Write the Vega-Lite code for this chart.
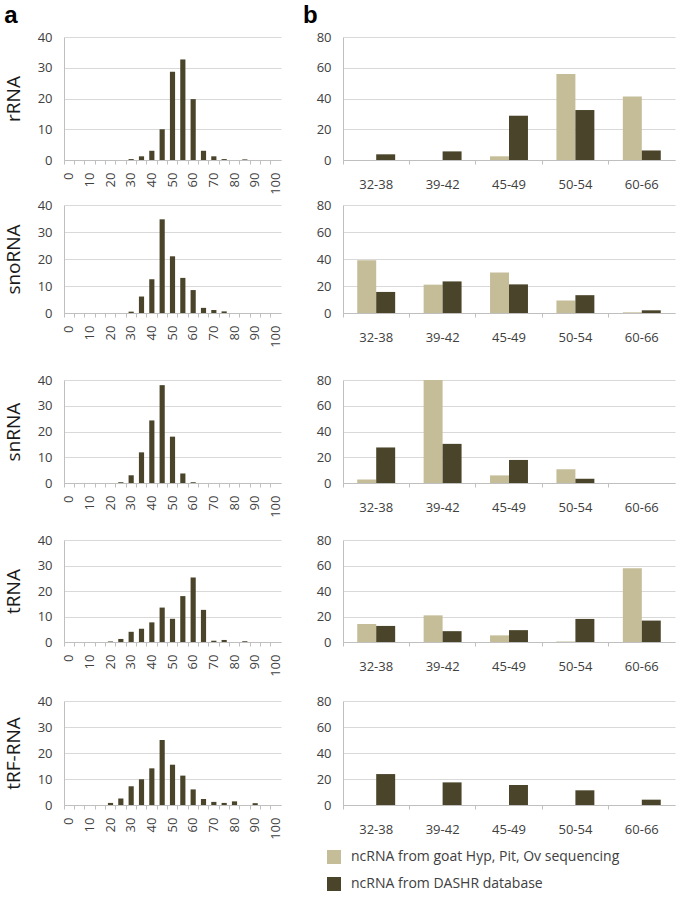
{
  "$schema": "https://vega.github.io/schema/vega-lite/v6.json",
  "padding": {"left": 4, "top": 4, "right": 4, "bottom": 4},
  "config": {
    "view": {"stroke": null},
    "font": "Open Sans",
    "axis": {
      "labelFont": "Open Sans",
      "labelFontSize": 13,
      "labelColor": "#404040",
      "domainColor": "#bfbfbf",
      "tickColor": "#bfbfbf",
      "gridColor": "#d9d9d9",
      "titleFont": "Open Sans",
      "titleFontWeight": "normal",
      "titleColor": "#1a1a1a"
    },
    "title": {"font": "Liberation Sans", "fontSize": 24, "fontWeight": "bold", "color": "#000000", "anchor": "start"},
    "legend": {
      "orient": "none",
      "legendX": 263,
      "legendY": 813,
      "symbolType": "square",
      "symbolSize": 196,
      "symbolStrokeWidth": 0,
      "labelFont": "Open Sans",
      "labelFontSize": 14,
      "labelColor": "#404040",
      "rowPadding": 13,
      "labelOffset": 10,
      "labelLimit": 400
    }
  },
  "datasets": {
    "hist": [
      {"rna":"rRNA","len":0,"pct":0},{"rna":"rRNA","len":5,"pct":0},{"rna":"rRNA","len":10,"pct":0},{"rna":"rRNA","len":15,"pct":0},{"rna":"rRNA","len":20,"pct":0},{"rna":"rRNA","len":25,"pct":0},{"rna":"rRNA","len":30,"pct":0.3},{"rna":"rRNA","len":35,"pct":1.2},{"rna":"rRNA","len":40,"pct":3},{"rna":"rRNA","len":45,"pct":10},{"rna":"rRNA","len":50,"pct":28.7},{"rna":"rRNA","len":55,"pct":32.7},{"rna":"rRNA","len":60,"pct":19.8},{"rna":"rRNA","len":65,"pct":3},{"rna":"rRNA","len":70,"pct":1.2},{"rna":"rRNA","len":75,"pct":0.3},{"rna":"rRNA","len":80,"pct":0},{"rna":"rRNA","len":85,"pct":0.2},{"rna":"rRNA","len":90,"pct":0},{"rna":"rRNA","len":95,"pct":0},{"rna":"rRNA","len":100,"pct":0},
      {"rna":"snoRNA","len":0,"pct":0},{"rna":"snoRNA","len":5,"pct":0},{"rna":"snoRNA","len":10,"pct":0},{"rna":"snoRNA","len":15,"pct":0},{"rna":"snoRNA","len":20,"pct":0},{"rna":"snoRNA","len":25,"pct":0},{"rna":"snoRNA","len":30,"pct":0.5},{"rna":"snoRNA","len":35,"pct":6.1},{"rna":"snoRNA","len":40,"pct":12.5},{"rna":"snoRNA","len":45,"pct":34.7},{"rna":"snoRNA","len":50,"pct":21},{"rna":"snoRNA","len":55,"pct":13},{"rna":"snoRNA","len":60,"pct":8.5},{"rna":"snoRNA","len":65,"pct":1.9},{"rna":"snoRNA","len":70,"pct":1.1},{"rna":"snoRNA","len":75,"pct":0.6},{"rna":"snoRNA","len":80,"pct":0},{"rna":"snoRNA","len":85,"pct":0},{"rna":"snoRNA","len":90,"pct":0},{"rna":"snoRNA","len":95,"pct":0},{"rna":"snoRNA","len":100,"pct":0},
      {"rna":"snRNA","len":0,"pct":0},{"rna":"snRNA","len":5,"pct":0},{"rna":"snRNA","len":10,"pct":0},{"rna":"snRNA","len":15,"pct":0},{"rna":"snRNA","len":20,"pct":0},{"rna":"snRNA","len":25,"pct":0.3},{"rna":"snRNA","len":30,"pct":3},{"rna":"snRNA","len":35,"pct":11.9},{"rna":"snRNA","len":40,"pct":24.3},{"rna":"snRNA","len":45,"pct":38},{"rna":"snRNA","len":50,"pct":18},{"rna":"snRNA","len":55,"pct":3.7},{"rna":"snRNA","len":60,"pct":0.3},{"rna":"snRNA","len":65,"pct":0},{"rna":"snRNA","len":70,"pct":0},{"rna":"snRNA","len":75,"pct":0},{"rna":"snRNA","len":80,"pct":0},{"rna":"snRNA","len":85,"pct":0},{"rna":"snRNA","len":90,"pct":0},{"rna":"snRNA","len":95,"pct":0},{"rna":"snRNA","len":100,"pct":0},
      {"rna":"tRNA","len":0,"pct":0},{"rna":"tRNA","len":5,"pct":0},{"rna":"tRNA","len":10,"pct":0},{"rna":"tRNA","len":15,"pct":0},{"rna":"tRNA","len":20,"pct":0.2},{"rna":"tRNA","len":25,"pct":1.2},{"rna":"tRNA","len":30,"pct":4},{"rna":"tRNA","len":35,"pct":5.2},{"rna":"tRNA","len":40,"pct":7.7},{"rna":"tRNA","len":45,"pct":13.5},{"rna":"tRNA","len":50,"pct":9.1},{"rna":"tRNA","len":55,"pct":18},{"rna":"tRNA","len":60,"pct":25.3},{"rna":"tRNA","len":65,"pct":12.6},{"rna":"tRNA","len":70,"pct":0.5},{"rna":"tRNA","len":75,"pct":0.8},{"rna":"tRNA","len":80,"pct":0},{"rna":"tRNA","len":85,"pct":0.3},{"rna":"tRNA","len":90,"pct":0},{"rna":"tRNA","len":95,"pct":0},{"rna":"tRNA","len":100,"pct":0},
      {"rna":"tRF-RNA","len":0,"pct":0},{"rna":"tRF-RNA","len":5,"pct":0},{"rna":"tRF-RNA","len":10,"pct":0},{"rna":"tRF-RNA","len":15,"pct":0},{"rna":"tRF-RNA","len":20,"pct":0.8},{"rna":"tRF-RNA","len":25,"pct":2.5},{"rna":"tRF-RNA","len":30,"pct":7.2},{"rna":"tRF-RNA","len":35,"pct":9.9},{"rna":"tRF-RNA","len":40,"pct":14.1},{"rna":"tRF-RNA","len":45,"pct":25},{"rna":"tRF-RNA","len":50,"pct":15.5},{"rna":"tRF-RNA","len":55,"pct":11.3},{"rna":"tRF-RNA","len":60,"pct":6},{"rna":"tRF-RNA","len":65,"pct":2.3},{"rna":"tRF-RNA","len":70,"pct":1.2},{"rna":"tRF-RNA","len":75,"pct":0.8},{"rna":"tRF-RNA","len":80,"pct":1.4},{"rna":"tRF-RNA","len":85,"pct":0},{"rna":"tRF-RNA","len":90,"pct":0.7},{"rna":"tRF-RNA","len":95,"pct":0},{"rna":"tRF-RNA","len":100,"pct":0}
    ],
    "cmp": [
      {"rna":"rRNA","range":"32-38","source":"ncRNA from goat Hyp, Pit, Ov sequencing","pct":0},
      {"rna":"rRNA","range":"39-42","source":"ncRNA from goat Hyp, Pit, Ov sequencing","pct":0},
      {"rna":"rRNA","range":"45-49","source":"ncRNA from goat Hyp, Pit, Ov sequencing","pct":2.4},
      {"rna":"rRNA","range":"50-54","source":"ncRNA from goat Hyp, Pit, Ov sequencing","pct":55.9},
      {"rna":"rRNA","range":"60-66","source":"ncRNA from goat Hyp, Pit, Ov sequencing","pct":41.3},
      {"rna":"rRNA","range":"32-38","source":"ncRNA from DASHR database","pct":3.7},
      {"rna":"rRNA","range":"39-42","source":"ncRNA from DASHR database","pct":5.6},
      {"rna":"rRNA","range":"45-49","source":"ncRNA from DASHR database","pct":28.8},
      {"rna":"rRNA","range":"50-54","source":"ncRNA from DASHR database","pct":32.5},
      {"rna":"rRNA","range":"60-66","source":"ncRNA from DASHR database","pct":6.2},
      {"rna":"snoRNA","range":"32-38","source":"ncRNA from goat Hyp, Pit, Ov sequencing","pct":39},
      {"rna":"snoRNA","range":"39-42","source":"ncRNA from goat Hyp, Pit, Ov sequencing","pct":21},
      {"rna":"snoRNA","range":"45-49","source":"ncRNA from goat Hyp, Pit, Ov sequencing","pct":30},
      {"rna":"snoRNA","range":"50-54","source":"ncRNA from goat Hyp, Pit, Ov sequencing","pct":9.3},
      {"rna":"snoRNA","range":"60-66","source":"ncRNA from goat Hyp, Pit, Ov sequencing","pct":0.5},
      {"rna":"snoRNA","range":"32-38","source":"ncRNA from DASHR database","pct":15.6},
      {"rna":"snoRNA","range":"39-42","source":"ncRNA from DASHR database","pct":23.4},
      {"rna":"snoRNA","range":"45-49","source":"ncRNA from DASHR database","pct":21.2},
      {"rna":"snoRNA","range":"50-54","source":"ncRNA from DASHR database","pct":13.2},
      {"rna":"snoRNA","range":"60-66","source":"ncRNA from DASHR database","pct":2},
      {"rna":"snRNA","range":"32-38","source":"ncRNA from goat Hyp, Pit, Ov sequencing","pct":2.8},
      {"rna":"snRNA","range":"39-42","source":"ncRNA from goat Hyp, Pit, Ov sequencing","pct":80},
      {"rna":"snRNA","range":"45-49","source":"ncRNA from goat Hyp, Pit, Ov sequencing","pct":5.9},
      {"rna":"snRNA","range":"50-54","source":"ncRNA from goat Hyp, Pit, Ov sequencing","pct":10.7},
      {"rna":"snRNA","range":"60-66","source":"ncRNA from goat Hyp, Pit, Ov sequencing","pct":0},
      {"rna":"snRNA","range":"32-38","source":"ncRNA from DASHR database","pct":27.6},
      {"rna":"snRNA","range":"39-42","source":"ncRNA from DASHR database","pct":30.4},
      {"rna":"snRNA","range":"45-49","source":"ncRNA from DASHR database","pct":17.9},
      {"rna":"snRNA","range":"50-54","source":"ncRNA from DASHR database","pct":3.3},
      {"rna":"snRNA","range":"60-66","source":"ncRNA from DASHR database","pct":0},
      {"rna":"tRNA","range":"32-38","source":"ncRNA from goat Hyp, Pit, Ov sequencing","pct":14.2},
      {"rna":"tRNA","range":"39-42","source":"ncRNA from goat Hyp, Pit, Ov sequencing","pct":20.9},
      {"rna":"tRNA","range":"45-49","source":"ncRNA from goat Hyp, Pit, Ov sequencing","pct":5.2},
      {"rna":"tRNA","range":"50-54","source":"ncRNA from goat Hyp, Pit, Ov sequencing","pct":0.3},
      {"rna":"tRNA","range":"60-66","source":"ncRNA from goat Hyp, Pit, Ov sequencing","pct":57.8},
      {"rna":"tRNA","range":"32-38","source":"ncRNA from DASHR database","pct":12.6},
      {"rna":"tRNA","range":"39-42","source":"ncRNA from DASHR database","pct":8.5},
      {"rna":"tRNA","range":"45-49","source":"ncRNA from DASHR database","pct":9.3},
      {"rna":"tRNA","range":"50-54","source":"ncRNA from DASHR database","pct":18.1},
      {"rna":"tRNA","range":"60-66","source":"ncRNA from DASHR database","pct":16.8},
      {"rna":"tRF-RNA","range":"32-38","source":"ncRNA from goat Hyp, Pit, Ov sequencing","pct":0},
      {"rna":"tRF-RNA","range":"39-42","source":"ncRNA from goat Hyp, Pit, Ov sequencing","pct":0},
      {"rna":"tRF-RNA","range":"45-49","source":"ncRNA from goat Hyp, Pit, Ov sequencing","pct":0},
      {"rna":"tRF-RNA","range":"50-54","source":"ncRNA from goat Hyp, Pit, Ov sequencing","pct":0},
      {"rna":"tRF-RNA","range":"60-66","source":"ncRNA from goat Hyp, Pit, Ov sequencing","pct":0},
      {"rna":"tRF-RNA","range":"32-38","source":"ncRNA from DASHR database","pct":23.8},
      {"rna":"tRF-RNA","range":"39-42","source":"ncRNA from DASHR database","pct":17.4},
      {"rna":"tRF-RNA","range":"45-49","source":"ncRNA from DASHR database","pct":15.4},
      {"rna":"tRF-RNA","range":"50-54","source":"ncRNA from DASHR database","pct":11.3},
      {"rna":"tRF-RNA","range":"60-66","source":"ncRNA from DASHR database","pct":4.1}
    ]
  },
  "spacing": 4,
  "vconcat": [
    {
      "spacing": 20,
      "hconcat": [
        {
          "title": {"text": "a", "offset": 3, "frame": "bounds"},
          "data": {"name": "hist"},
          "transform": [{"filter": "datum.rna === 'rRNA'"}],
          "width": 217, "height": 123,
          "mark": {"type": "bar", "color": "#4a452a", "width": {"band": 0.5}},
          "encoding": {
            "x": {"field": "len", "type": "ordinal", "scale": {"paddingInner": 0, "paddingOuter": 0},
              "axis": {"title": null, "labelAngle": -90, "labelAlign": "right", "labelBaseline": "middle", "bandPosition": 0, "labelExpr": "datum.value % 10 === 0 ? datum.label : ''", "tickSize": 4, "labelPadding": 8}},
            "y": {"field": "pct", "type": "quantitative", "scale": {"domain": [0, 40]},
              "axis": {"title": "rRNA", "values": [0, 10, 20, 30, 40], "ticks": false, "labelPadding": 12, "titlePadding": 14, "titleFontSize": 19}}
          }
        },
        {
          "title": {"text": "b", "offset": 3, "frame": "group", "dx": -40},
          "data": {"name": "cmp"},
          "transform": [{"filter": "datum.rna === 'rRNA'"}],
          "width": 332, "height": 123,
          "mark": {"type": "bar"},
          "encoding": {
            "x": {"field": "range", "type": "nominal", "scale": {"paddingInner": 0, "paddingOuter": 0},
              "axis": {"title": null, "labelAngle": 0, "bandPosition": 0, "tickSize": 4, "labelPadding": 14}},
            "xOffset": {"field": "source", "type": "nominal", "scale": {"domain": ["ncRNA from goat Hyp, Pit, Ov sequencing", "ncRNA from DASHR database"], "paddingInner": 0, "paddingOuter": 0.75}},
            "y": {"field": "pct", "type": "quantitative", "scale": {"domain": [0, 80]},
              "axis": {"title": null, "values": [0, 20, 40, 60, 80], "ticks": false, "labelPadding": 12}},
            "color": {"field": "source", "type": "nominal", "title": null, "scale": {"domain": ["ncRNA from goat Hyp, Pit, Ov sequencing", "ncRNA from DASHR database"], "range": ["#c4bd97", "#4a452a"]}}
          }
        }
      ]
    },
    {
      "spacing": 26,
      "vconcat": [
        {
          "spacing": 33,
          "hconcat": [
            {
              "data": {"name": "hist"},
              "transform": [{"filter": "datum.rna === 'snoRNA'"}],
              "width": 217, "height": 108,
              "mark": {"type": "bar", "color": "#4a452a", "width": {"band": 0.5}},
              "encoding": {
                "x": {"field": "len", "type": "ordinal", "scale": {"paddingInner": 0, "paddingOuter": 0},
                  "axis": {"title": null, "labelAngle": -90, "labelAlign": "right", "labelBaseline": "middle", "bandPosition": 0, "labelExpr": "datum.value % 10 === 0 ? datum.label : ''", "tickSize": 4, "labelPadding": 8}},
                "y": {"field": "pct", "type": "quantitative", "scale": {"domain": [0, 40]},
                  "axis": {"title": "snoRNA", "values": [0, 10, 20, 30, 40], "ticks": false, "labelPadding": 12, "titlePadding": 14, "titleFontSize": 19}}
              }
            },
            {
              "data": {"name": "cmp"},
              "transform": [{"filter": "datum.rna === 'snoRNA'"}],
              "width": 332, "height": 108,
              "mark": {"type": "bar"},
              "encoding": {
                "x": {"field": "range", "type": "nominal", "scale": {"paddingInner": 0, "paddingOuter": 0},
                  "axis": {"title": null, "labelAngle": 0, "bandPosition": 0, "tickSize": 4, "labelPadding": 14}},
                "xOffset": {"field": "source", "type": "nominal", "scale": {"domain": ["ncRNA from goat Hyp, Pit, Ov sequencing", "ncRNA from DASHR database"], "paddingInner": 0, "paddingOuter": 0.75}},
                "y": {"field": "pct", "type": "quantitative", "scale": {"domain": [0, 80]},
                  "axis": {"title": null, "values": [0, 20, 40, 60, 80], "ticks": false, "labelPadding": 12}},
                "color": {"field": "source", "type": "nominal", "title": null, "scale": {"domain": ["ncRNA from goat Hyp, Pit, Ov sequencing", "ncRNA from DASHR database"], "range": ["#c4bd97", "#4a452a"]}}
              }
            }
          ]
        },
        {
          "spacing": 16,
          "vconcat": [
            {
              "spacing": 33,
              "hconcat": [
                {
                  "data": {"name": "hist"},
                  "transform": [{"filter": "datum.rna === 'snRNA'"}],
                  "width": 217, "height": 103,
                  "mark": {"type": "bar", "color": "#4a452a", "width": {"band": 0.5}},
                  "encoding": {
                    "x": {"field": "len", "type": "ordinal", "scale": {"paddingInner": 0, "paddingOuter": 0},
                      "axis": {"title": null, "labelAngle": -90, "labelAlign": "right", "labelBaseline": "middle", "bandPosition": 0, "labelExpr": "datum.value % 10 === 0 ? datum.label : ''", "tickSize": 4, "labelPadding": 8}},
                    "y": {"field": "pct", "type": "quantitative", "scale": {"domain": [0, 40]},
                      "axis": {"title": "snRNA", "values": [0, 10, 20, 30, 40], "ticks": false, "labelPadding": 12, "titlePadding": 14, "titleFontSize": 19}}
                  }
                },
                {
                  "data": {"name": "cmp"},
                  "transform": [{"filter": "datum.rna === 'snRNA'"}],
                  "width": 332, "height": 103,
                  "mark": {"type": "bar"},
                  "encoding": {
                    "x": {"field": "range", "type": "nominal", "scale": {"paddingInner": 0, "paddingOuter": 0},
                      "axis": {"title": null, "labelAngle": 0, "bandPosition": 0, "tickSize": 4, "labelPadding": 14}},
                    "xOffset": {"field": "source", "type": "nominal", "scale": {"domain": ["ncRNA from goat Hyp, Pit, Ov sequencing", "ncRNA from DASHR database"], "paddingInner": 0, "paddingOuter": 0.75}},
                    "y": {"field": "pct", "type": "quantitative", "scale": {"domain": [0, 80]},
                      "axis": {"title": null, "values": [0, 20, 40, 60, 80], "ticks": false, "labelPadding": 12}},
                    "color": {"field": "source", "type": "nominal", "title": null, "scale": {"domain": ["ncRNA from goat Hyp, Pit, Ov sequencing", "ncRNA from DASHR database"], "range": ["#c4bd97", "#4a452a"]}}
                  }
                }
              ]
            },
            {
              "spacing": 18,
              "vconcat": [
                {
                  "spacing": 33,
                  "hconcat": [
                    {
                      "data": {"name": "hist"},
                      "transform": [{"filter": "datum.rna === 'tRNA'"}],
                      "width": 217, "height": 102,
                      "mark": {"type": "bar", "color": "#4a452a", "width": {"band": 0.5}},
                      "encoding": {
                        "x": {"field": "len", "type": "ordinal", "scale": {"paddingInner": 0, "paddingOuter": 0},
                          "axis": {"title": null, "labelAngle": -90, "labelAlign": "right", "labelBaseline": "middle", "bandPosition": 0, "labelExpr": "datum.value % 10 === 0 ? datum.label : ''", "tickSize": 4, "labelPadding": 8}},
                        "y": {"field": "pct", "type": "quantitative", "scale": {"domain": [0, 40]},
                          "axis": {"title": "tRNA", "values": [0, 10, 20, 30, 40], "ticks": false, "labelPadding": 12, "titlePadding": 14, "titleFontSize": 19}}
                      }
                    },
                    {
                      "data": {"name": "cmp"},
                      "transform": [{"filter": "datum.rna === 'tRNA'"}],
                      "width": 332, "height": 102,
                      "mark": {"type": "bar"},
                      "encoding": {
                        "x": {"field": "range", "type": "nominal", "scale": {"paddingInner": 0, "paddingOuter": 0},
                          "axis": {"title": null, "labelAngle": 0, "bandPosition": 0, "tickSize": 4, "labelPadding": 14}},
                        "xOffset": {"field": "source", "type": "nominal", "scale": {"domain": ["ncRNA from goat Hyp, Pit, Ov sequencing", "ncRNA from DASHR database"], "paddingInner": 0, "paddingOuter": 0.75}},
                        "y": {"field": "pct", "type": "quantitative", "scale": {"domain": [0, 80]},
                          "axis": {"title": null, "values": [0, 20, 40, 60, 80], "ticks": false, "labelPadding": 12}},
                        "color": {"field": "source", "type": "nominal", "title": null, "scale": {"domain": ["ncRNA from goat Hyp, Pit, Ov sequencing", "ncRNA from DASHR database"], "range": ["#c4bd97", "#4a452a"]}}
                      }
                    }
                  ]
                },
                {
                  "spacing": 33,
                  "hconcat": [
                    {
                      "data": {"name": "hist"},
                      "transform": [{"filter": "datum.rna === 'tRF-RNA'"}],
                      "width": 217, "height": 104,
                      "mark": {"type": "bar", "color": "#4a452a", "width": {"band": 0.5}},
                      "encoding": {
                        "x": {"field": "len", "type": "ordinal", "scale": {"paddingInner": 0, "paddingOuter": 0},
                          "axis": {"title": null, "labelAngle": -90, "labelAlign": "right", "labelBaseline": "middle", "bandPosition": 0, "labelExpr": "datum.value % 10 === 0 ? datum.label : ''", "tickSize": 4, "labelPadding": 8}},
                        "y": {"field": "pct", "type": "quantitative", "scale": {"domain": [0, 40]},
                          "axis": {"title": "tRF-RNA", "values": [0, 10, 20, 30, 40], "ticks": false, "labelPadding": 12, "titlePadding": 14, "titleFontSize": 19}}
                      }
                    },
                    {
                      "data": {"name": "cmp"},
                      "transform": [{"filter": "datum.rna === 'tRF-RNA'"}],
                      "width": 332, "height": 104,
                      "mark": {"type": "bar"},
                      "encoding": {
                        "x": {"field": "range", "type": "nominal", "scale": {"paddingInner": 0, "paddingOuter": 0},
                          "axis": {"title": null, "labelAngle": 0, "bandPosition": 0, "tickSize": 4, "labelPadding": 14}},
                        "xOffset": {"field": "source", "type": "nominal", "scale": {"domain": ["ncRNA from goat Hyp, Pit, Ov sequencing", "ncRNA from DASHR database"], "paddingInner": 0, "paddingOuter": 0.75}},
                        "y": {"field": "pct", "type": "quantitative", "scale": {"domain": [0, 80]},
                          "axis": {"title": null, "values": [0, 20, 40, 60, 80], "ticks": false, "labelPadding": 12}},
                        "color": {"field": "source", "type": "nominal", "title": null, "scale": {"domain": ["ncRNA from goat Hyp, Pit, Ov sequencing", "ncRNA from DASHR database"], "range": ["#c4bd97", "#4a452a"]}}
                      }
                    }
                  ]
                }
              ]
            }
          ]
        }
      ]
    }
  ]
}
